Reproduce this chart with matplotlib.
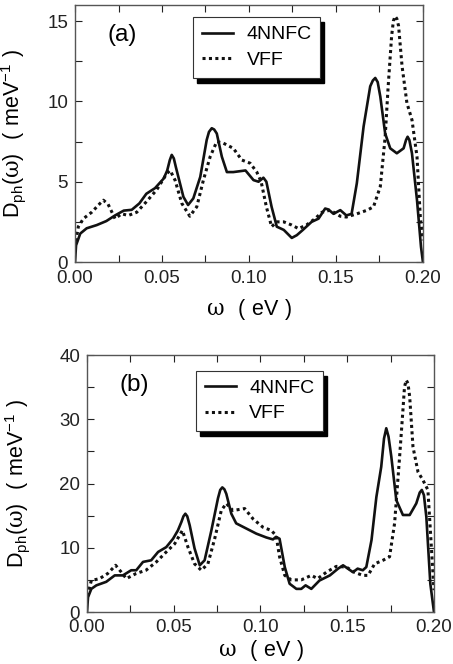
import matplotlib
matplotlib.use('Agg')
import matplotlib.pyplot as plt
from matplotlib.patches import Rectangle
from matplotlib.ticker import MultipleLocator

plt.rcParams['font.family'] = ['Liberation Sans', 'DejaVu Sans']
plt.rcParams['mathtext.fontset'] = 'custom'
plt.rcParams['mathtext.rm'] = 'Liberation Sans'
plt.rcParams['mathtext.it'] = 'DejaVu Serif'

# panel (a): 4NNFC
w_a_4nn = [0.0, 0.0006, 0.003, 0.0067, 0.0125, 0.018, 0.023, 0.028, 0.0326, 0.037,
           0.041, 0.046, 0.051, 0.053, 0.0545, 0.0556, 0.0568, 0.058, 0.0623, 0.065,
           0.068, 0.072, 0.0757, 0.077, 0.0786, 0.080, 0.0815, 0.0844, 0.0873, 0.091,
           0.098, 0.1026, 0.1055, 0.1083, 0.110, 0.113, 0.116, 0.120, 0.1246, 0.1275,
           0.131, 0.136, 0.140, 0.1438, 0.1457, 0.1486, 0.1525, 0.156, 0.159, 0.162,
           0.1659, 0.1697, 0.1712, 0.1726, 0.174, 0.1755, 0.1783, 0.1812, 0.185, 0.1889,
           0.1903, 0.1912, 0.1922, 0.1937, 0.1966, 0.1989, 0.2]
d_a_4nn = [0.0, 1.04, 1.77, 2.1, 2.3, 2.55, 2.9, 3.2, 3.25, 3.65,
           4.25, 4.6, 5.2, 5.7, 6.35, 6.67, 6.45, 5.9, 4.06, 3.55,
           3.96, 5.3, 7.6, 8.1, 8.33, 8.25, 8.0, 6.56, 5.6, 5.6,
           5.7, 5.1, 5.0, 5.25, 5.0, 3.44, 2.2, 2.0, 1.5, 1.67,
           2.0, 2.5, 2.7, 3.33, 3.27, 3.0, 3.23, 2.9, 3.0, 4.9,
           8.44, 10.94, 11.3, 11.46, 11.2, 10.3, 8.0, 7.08, 6.77, 7.08,
           7.6, 7.8, 7.6, 6.77, 3.85, 0.94, 0.0]

# panel (a): VFF
w_a_vff = [0.0, 0.0006, 0.0019, 0.0048, 0.0096, 0.0144, 0.0163, 0.019, 0.023, 0.0268,
           0.0307, 0.0355, 0.041, 0.047, 0.0527, 0.0547, 0.0575, 0.0614, 0.066, 0.070,
           0.0738, 0.0777, 0.0815, 0.0853, 0.091, 0.0959, 0.1007, 0.1045, 0.107, 0.110,
           0.113, 0.116, 0.120, 0.1246, 0.1285, 0.133, 0.138, 0.142, 0.1467, 0.1525,
           0.156, 0.162, 0.168, 0.1716, 0.1755, 0.1783, 0.180, 0.182, 0.183, 0.184,
           0.185, 0.186, 0.188, 0.1908, 0.1937, 0.1966, 0.1985, 0.2]
d_a_vff = [0.9, 1.35, 2.2, 2.7, 3.1, 3.65, 3.85, 3.6, 2.7, 3.0,
           2.9, 3.1, 3.75, 4.5, 5.5, 5.7, 5.1, 3.65, 2.85, 3.44,
           5.1, 6.56, 7.5, 7.4, 7.08, 6.35, 6.15, 5.6, 5.0, 3.44,
           2.2, 2.5, 2.5, 2.3, 2.08, 2.3, 2.7, 3.1, 3.23, 2.85,
           2.8, 3.0, 3.23, 3.44, 4.7, 7.8, 10.9, 14.06, 15.0, 15.3,
           15.15, 14.7, 12.2, 9.9, 8.85, 6.56, 2.8, 1.35]

# panel (b): 4NNFC
w_b_4nn = [0.0, 0.0006, 0.0025, 0.0054, 0.0111, 0.016, 0.0207, 0.0255, 0.0284, 0.0323,
           0.037, 0.041, 0.0457, 0.0496, 0.0524, 0.0544, 0.0556, 0.0567, 0.0578, 0.0592,
           0.062, 0.065, 0.0678, 0.0717, 0.0755, 0.0768, 0.078, 0.0792, 0.0803, 0.0832,
           0.086, 0.0918, 0.0976, 0.1034, 0.1072, 0.109, 0.111, 0.114, 0.1168, 0.1207,
           0.1235, 0.126, 0.1293, 0.134, 0.140, 0.1447, 0.1476, 0.1504, 0.1533, 0.156,
           0.159, 0.161, 0.164, 0.1668, 0.1696, 0.1712, 0.1725, 0.1738, 0.1754, 0.1783,
           0.1821, 0.186, 0.1898, 0.1918, 0.193, 0.1942, 0.1956, 0.1979, 0.2]
d_b_4nn = [0.0, 2.3, 3.6, 4.15, 4.7, 5.7, 5.7, 6.5, 6.5, 7.8,
           8.05, 9.35, 10.1, 11.4, 12.7, 14.0, 14.9, 15.3, 14.9, 13.5,
           9.9, 7.27, 8.05, 12.7, 17.7, 19.0, 19.4, 19.1, 18.4, 15.3,
           13.8, 13.0, 12.2, 11.6, 11.3, 11.7, 11.4, 7.0, 4.4, 3.6,
           3.6, 4.15, 3.6, 4.9, 5.7, 6.75, 7.27, 6.75, 6.2, 6.75,
           6.5, 7.0, 11.2, 17.9, 22.6, 27.0, 28.6, 27.3, 24.2, 17.4,
           15.1, 15.1, 16.9, 18.6, 19.0, 18.2, 14.8, 4.4, 0.0]

# panel (b): VFF
w_b_vff = [0.0, 0.0006, 0.0025, 0.0073, 0.012, 0.0165, 0.0198, 0.0227, 0.0284, 0.034,
           0.040, 0.0457, 0.0505, 0.055, 0.0582, 0.062, 0.0659, 0.0697, 0.0736, 0.0774,
           0.0803, 0.0841, 0.0909, 0.0957, 0.1014, 0.1062, 0.109, 0.111, 0.114, 0.1178,
           0.1235, 0.1293, 0.133, 0.138, 0.1437, 0.1495, 0.154, 0.159, 0.162, 0.1658,
           0.1706, 0.1744, 0.1773, 0.1802, 0.1821, 0.183, 0.184, 0.185, 0.186, 0.1879,
           0.1908, 0.1937, 0.1965, 0.1985, 0.2]
d_b_vff = [1.5, 2.86, 4.9, 5.2, 6.0, 7.27, 6.2, 5.2, 6.0, 6.5,
           7.8, 9.35, 10.6, 12.7, 10.1, 7.5, 6.5, 7.5, 11.4, 15.8,
           16.9, 15.8, 16.1, 14.5, 13.2, 12.7, 11.9, 8.6, 5.7, 5.0,
           5.0, 5.7, 5.2, 6.2, 7.1, 7.0, 6.2, 5.7, 5.7, 7.5,
           8.05, 8.6, 13.8, 24.2, 31.4, 35.0, 36.1, 35.6, 33.5, 25.7,
           21.8, 20.5, 19.0, 10.1, 3.4]

series_names = ['4NNFC', 'VFF']


def draw_panel(ax, w4, d4, wv, dv, ymax, ymaj, tag, leg_box, xpad):
    ax.plot(w4, d4, color='#111111', lw=1.9, label=series_names[0])
    ax.plot(wv, dv, color='#111111', lw=2.2, ls=(0, (1, 1.1)), label=series_names[1])
    ax.set_xlim(0, 0.2)
    ax.set_ylim(0, ymax)
    ax.xaxis.set_major_locator(MultipleLocator(0.05))
    ax.xaxis.set_minor_locator(MultipleLocator(0.025))
    ax.yaxis.set_major_locator(MultipleLocator(ymaj))
    ax.yaxis.set_minor_locator(MultipleLocator(ymaj / 2))
    ax.xaxis.set_major_formatter(plt.FuncFormatter(lambda v, p: '%.2f' % v))
    ax.tick_params(which='both', direction='in', top=True, right=True,
                   labelsize=13.5, colors='#222222', width=0.8, length=5)
    ax.tick_params(axis='y', which='major', pad=5)
    ax.tick_params(axis='x', which='major', pad=xpad)
    for s in ax.spines.values():
        s.set_color('#555555')
        s.set_linewidth(1.0)
    ax.set_ylabel(r'$\mathrm{D_{ph}(}\omega\mathrm{)\ \ (\ meV^{-1}\ )}$', fontsize=15.5)
    ax.text(0.135, 0.885, tag, transform=ax.transAxes, fontsize=17.5,
            ha='center', va='center')
    leg = ax.legend(loc='upper left', bbox_to_anchor=(leg_box[0], leg_box[1]),
                    fontsize=14, frameon=True, fancybox=False, framealpha=1,
                    facecolor='white', borderpad=0.45, handlelength=1.6,
                    handletextpad=0.7, labelspacing=0.4, borderaxespad=0)
    leg.get_frame().set_edgecolor('#333333')
    leg.get_frame().set_linewidth(0.8)
    leg.set_zorder(6)
    return leg


fig = plt.figure(figsize=(4.53, 6.64), dpi=100)
ax1 = fig.add_axes([0.1656, 0.6054, 0.768, 0.387])
ax2 = fig.add_axes([0.192, 0.0783, 0.766, 0.387])

leg1 = draw_panel(ax1, w_a_4nn, d_a_4nn, w_a_vff, d_a_vff, 16, 5, '(a)', (0.339, 0.953), 6)
leg2 = draw_panel(ax2, w_b_4nn, d_b_4nn, w_b_vff, d_b_vff, 40, 10, '(b)', (0.314, 0.939), 4.7)
ax1.set_xlabel(r'$\omega\mathrm{\ \ (\ eV\ )}$', fontsize=15.5, labelpad=7)
ax2.set_xlabel(r'$\omega\mathrm{\ \ (\ eV\ )}$', fontsize=15.5, labelpad=1.5)
ax1.yaxis.set_label_coords(-0.135, 0.5)
ax2.yaxis.set_label_coords(-0.158, 0.5)

# black drop shadow behind each legend box
fig.canvas.draw()
for ax, leg in [(ax1, leg1), (ax2, leg2)]:
    bb = leg.get_window_extent().transformed(ax.transAxes.inverted())
    dx = 4.0 / ax.bbox.width
    dy = 5.0 / ax.bbox.height
    ax.add_patch(Rectangle((bb.x0 + dx, bb.y0 - dy), bb.width, bb.height,
                           transform=ax.transAxes, color='black', zorder=5.5,
                           clip_on=False))

fig.savefig('out.png', dpi=100)
